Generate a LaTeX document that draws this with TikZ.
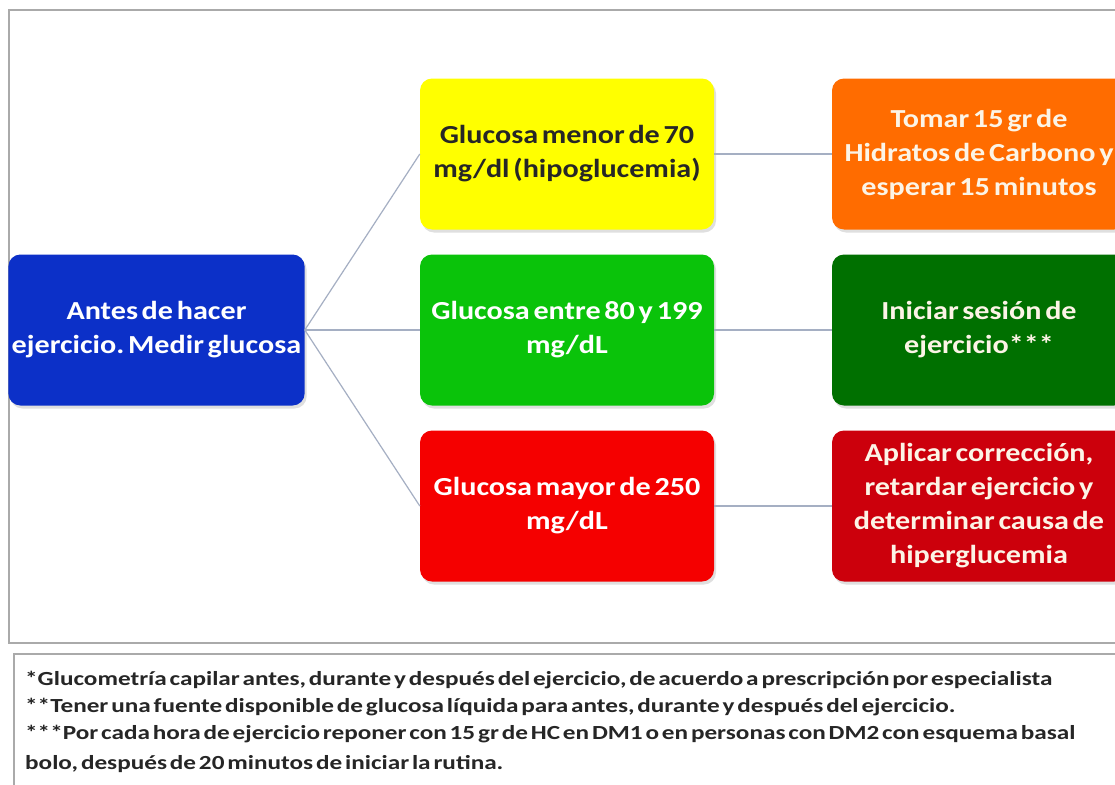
\documentclass[tikz,border=0pt]{standalone}
\usepackage{fontspec}
\setmainfont{Carlito}
\newfontfamily\boxfam[FakeStretch=1.16, WordSpace=0.55]{Carlito}
\newfontfamily\notefam[FakeStretch=1.26, WordSpace=0.5]{Carlito}
\usetikzlibrary{positioning, shadows}
\frenchspacing

\definecolor{startblue}{RGB}{12,48,200}
\definecolor{lowyellow}{RGB}{255,255,0}
\definecolor{okgreen}{RGB}{10,195,10}
\definecolor{highred}{RGB}{245,0,0}
\definecolor{lowact}{RGB}{255,108,0}
\definecolor{okact}{RGB}{0,112,0}
\definecolor{highact}{RGB}{204,0,12}
\definecolor{acttext}{RGB}{252,244,230}
\definecolor{connline}{RGB}{165,175,195}
\definecolor{framegray}{RGB}{170,170,170}

\newcommand{\boxfont}{\boxfam\fontsize{26}{34}\selectfont\bfseries}
\newcommand{\notefont}{\notefam\fontsize{20}{27}\selectfont\bfseries}

\tikzset{
  gbox/.style={rounded corners=12pt, minimum width=294pt, minimum height=151pt,
    align=center, font=\boxfont, text=white,
    drop shadow={opacity=0.25, shadow xshift=2pt, shadow yshift=-3pt}},
  conn/.style={draw=connline, line width=1.2pt},
  framebox/.style={draw=framegray, line width=2.5pt}
}

\begin{document}
\begin{tikzpicture}[x=1pt, y=-1pt, node distance=176pt, on grid]
  \useasboundingbox (0,0) rectangle (1115,784);
  \clip (0,0) rectangle (1115,784);
  \fill[white] (0,0) rectangle (1115,784);

  % frames
  \draw[framebox] (9,10) rectangle (1140,643);
  \draw[framebox] (14,654) rectangle (1140,800);

  % first column
  \node[gbox, fill=startblue] (start) at (156.5,330) {Antes de hacer\\ejercicio. Medir glucosa};

  % glucose levels
  \node[gbox, fill=okgreen] (normal) [right=410.5pt of start] {Glucosa entre 80 y 199\\mg/dL};
  \node[gbox, fill=lowyellow, text=black!85] (low) [above=of normal] {Glucosa menor de 70\\mg/dl (hipoglucemia)};
  \node[gbox, fill=highred] (high) [below=of normal] {Glucosa mayor de 250\\mg/dL};

  % actions
  \node[gbox, fill=lowact, text=acttext] (lowdo) [right=412pt of low] {Tomar 15 gr de\\Hidratos de Carbono y\\esperar 15 minutos};
  \node[gbox, fill=okact, text=acttext] (normaldo) [right=412pt of normal] {Iniciar sesión de\\ejercicio***};
  \node[gbox, fill=highact, text=acttext] (highdo) [right=412pt of high] {Aplicar corrección,\\retardar ejercicio y\\determinar causa de\\hiperglucemia};

  \path[conn]
    (start.east) edge (low.west)
                 edge (normal.west)
                 edge (high.west)
    (low.east) edge (lowdo.west)
    (normal.east) edge (normaldo.west)
    (high.east) edge (highdo.west);

  % notes
  \node[anchor=north west, align=left, font=\notefont, text=black!85, inner sep=0pt] (notes) at (25,671)
    {*Glucometría capilar antes, durante y después del ejercicio, de acuerdo a prescripción por especialista\\
     **Tener una fuente disponible de glucosa líquida para antes, durante y después del ejercicio.\\
     ***Por cada hora de ejercicio reponer con 15 gr de HC en DM1 o en personas con DM2 con esquema basal\\[3pt]
     bolo, después de 20 minutos de iniciar la rutina.};
\end{tikzpicture}
\end{document}
